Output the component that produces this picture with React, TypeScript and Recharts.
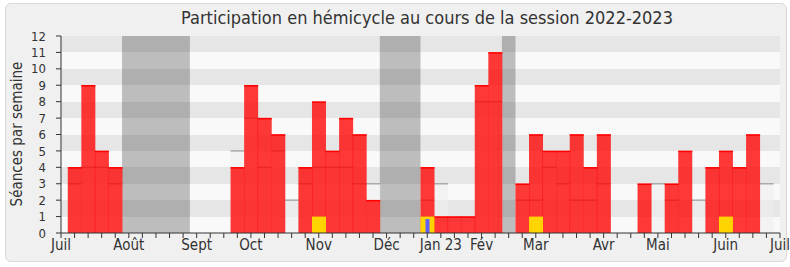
import React from 'react';
import { BarChart, Bar, XAxis, YAxis, CartesianGrid, ReferenceArea, Label } from 'recharts';

// Week index (0 = start of July 2022, bars centred on weeks 1..52)
const weeks: number[] = Array.from({ length: 54 }, (_, i) => i);

// Séances in hemicycle per week (red)
const seances: (number | null)[] = [
  null, 4, 9, 5, 4, null, null, null, null, null,
  null, null, null, 4, 9, 7, 6, null, 4, 8,
  5, 7, 6, 2, null, null, null, 4, 1, 1,
  1, 9, 11, null, 3, 6, 5, 5, 6, 4,
  6, null, null, 3, null, 3, 5, null, 4, 5,
  4, 6, null, null,
];

// Commission présence (yellow)
const commission: (number | null)[] = [
  null, null, null, null, null, null, null, null, null, null,
  null, null, null, null, null, null, null, null, null, 1,
  null, null, null, null, null, null, null, 1, null, null,
  null, null, null, null, null, 1, null, null, null, null,
  null, null, null, null, null, null, null, null, null, 1,
  null, null, null, null,
];

// Questions (blue)
const questions: (number | null)[] = [
  null, null, null, null, null, null, null, null, null, null,
  null, null, null, null, null, null, null, null, null, null,
  null, null, null, null, null, null, null, 0.85, null, null,
  null, null, null, null, null, null, null, null, null, null,
  null, null, null, null, null, null, null, null, null, null,
  null, null, null, null,
];

// Median of all deputies (grey step)
const median: (number | null)[] = [
  null, 3, 4, 4, 3, null, null, null, null, null,
  null, null, null, 5, 7, 4, 5, 2, 3, 4,
  4, 4, 3, 3, null, null, null, 2, 3, null,
  null, 8, 8, null, 2, 2, 4, 3, 2, 2,
  3, null, null, null, 3, 2, null, 2, null, null,
  null, null, 3, null,
];

const monthWeeks: number[] = [0, 5, 10, 14, 19, 24, 28, 31, 35, 40, 44, 49, 53];
const monthLabels: string[] = ['Juil', 'Août', 'Sept', 'Oct', 'Nov', 'Déc', 'Jan 23', 'Fév', 'Mar', 'Avr', 'Mai', 'Juin', 'Juil'];

const vacationStart: number[] = [5, 24, 33];
const vacationEnd: number[] = [9, 26, 33];

const yTicks: number[] = [0, 1, 2, 3, 4, 5, 6, 7, 8, 9, 10, 11, 12];

const data = weeks.map((w, i) => ({
  week: w,
  seances: seances[i],
  commission: commission[i],
  questions: questions[i],
  median: median[i],
}));

const FONT = '"DejaVu Sans Condensed", "DejaVu Sans", sans-serif';
const TEXT = '#333333';

const monthFormatter = (v: number) => {
  const idx = monthWeeks.indexOf(v);
  return idx >= 0 ? monthLabels[idx] : '';
};

const RedShape = (props: any) => {
  const { x, y, width, height } = props;
  if (!height || height <= 0) return null;
  return (
    <g>
      <rect x={x} y={y} width={width} height={height} fill="#ff0000" fillOpacity={0.78} />
      <line x1={x} x2={x + width} y1={y + 0.5} y2={y + 0.5} stroke="#ff0000" strokeWidth={1.5} />
    </g>
  );
};

const MedianShape = (props: any) => {
  const { x, y, width, height } = props;
  if (!height || height <= 0) return null;
  return (
    <g>
      <rect x={x} y={y} width={width} height={height} fill="#eeeeee" fillOpacity={0.55} />
      <line x1={x} x2={x + width} y1={y} y2={y} stroke="#aaaaaa" strokeWidth={1.5} />
    </g>
  );
};

const YLabel = () => (
  <text
    x={17}
    y={134}
    transform="rotate(-90 17 134)"
    textAnchor="middle"
    dominantBaseline="central"
    fill={TEXT}
    fontSize={15}
    fontFamily={FONT}
  >
    Séances par semaine
  </text>
);

export default function App() {
  return (
    <div style={{ position: 'absolute', left: 0, top: 0, width: 790, height: 267, background: '#ffffff' }}>
      <div
        style={{
          position: 'absolute',
          left: 5,
          top: 3,
          width: 780,
          height: 257,
          background: '#f0f0f0',
          border: '1px solid #d9d9d9',
          borderRadius: 6,
        }}
      />
      <div
        style={{
          position: 'absolute',
          left: 64,
          top: 9,
          width: 726,
          textAlign: 'center',
          fontFamily: FONT,
          fontSize: 18,
          lineHeight: '18px',
          color: TEXT,
          whiteSpace: 'nowrap',
        }}
      >
        Participation en hémicycle au cours de la session 2022-2023
      </div>
      <div style={{ position: 'absolute', left: 0, top: 0 }}>
        <BarChart
          width={790}
          height={267}
          data={data}
          margin={{ top: 34, right: 10, bottom: 4, left: 0 }}
          barCategoryGap={0}
          barGap={0}
        >
          <CartesianGrid vertical={false} stroke="none" horizontalFill={['#e6e6e6', '#f9f9f9']} />
          {vacationStart.map((s, i) => (
            <ReferenceArea
              key={i}
              x1={s - 0.5}
              x2={vacationEnd[i] + 0.5}
              y1={0}
              y2={12}
              fill="#000000"
              fillOpacity={0.24}
              stroke="none"
            />
          ))}
          <XAxis
            dataKey="week"
            type="number"
            domain={[0, 53]}
            ticks={weeks}
            interval={0}
            tickFormatter={monthFormatter}
            tickSize={5}
            tickMargin={1}
            height={30}
            axisLine={{ stroke: TEXT }}
            tickLine={{ stroke: TEXT }}
            tick={{ fill: TEXT, fontSize: 15, fontFamily: FONT }}
            allowDataOverflow
          />
          <XAxis
            xAxisId="top"
            orientation="top"
            dataKey="week"
            type="number"
            domain={[0, 53]}
            ticks={weeks}
            interval={0}
            tick={false}
            tickSize={2}
            height={2}
            axisLine={false}
            tickLine={{ stroke: TEXT }}
            allowDataOverflow
          />
          <XAxis xAxisId="med" hide dataKey="week" type="number" domain={[0, 53]} ticks={weeks} allowDataOverflow />
          <XAxis xAxisId="yel" hide dataKey="week" type="number" domain={[0, 53]} ticks={weeks} allowDataOverflow />
          <XAxis xAxisId="blu" hide dataKey="week" type="number" domain={[0, 53]} ticks={weeks} allowDataOverflow />
          <YAxis
            domain={[0, 12]}
            ticks={yTicks}
            interval={0}
            width={61}
            tickSize={5}
            tickMargin={10}
            axisLine={{ stroke: TEXT }}
            tickLine={{ stroke: TEXT }}
            tick={{ fill: TEXT, fontSize: 13, fontFamily: FONT }}
            allowDataOverflow
          >
            <Label content={YLabel} />
          </YAxis>
          <Bar xAxisId="med" dataKey="median" shape={MedianShape} isAnimationActive={false} />
          <Bar dataKey="seances" shape={RedShape} isAnimationActive={false} />
          <Bar xAxisId="yel" dataKey="commission" fill="#ffd400" isAnimationActive={false} />
          <Bar xAxisId="blu" dataKey="questions" fill="#6060ff" barSize={4} isAnimationActive={false} />
        </BarChart>
      </div>
    </div>
  );
}
